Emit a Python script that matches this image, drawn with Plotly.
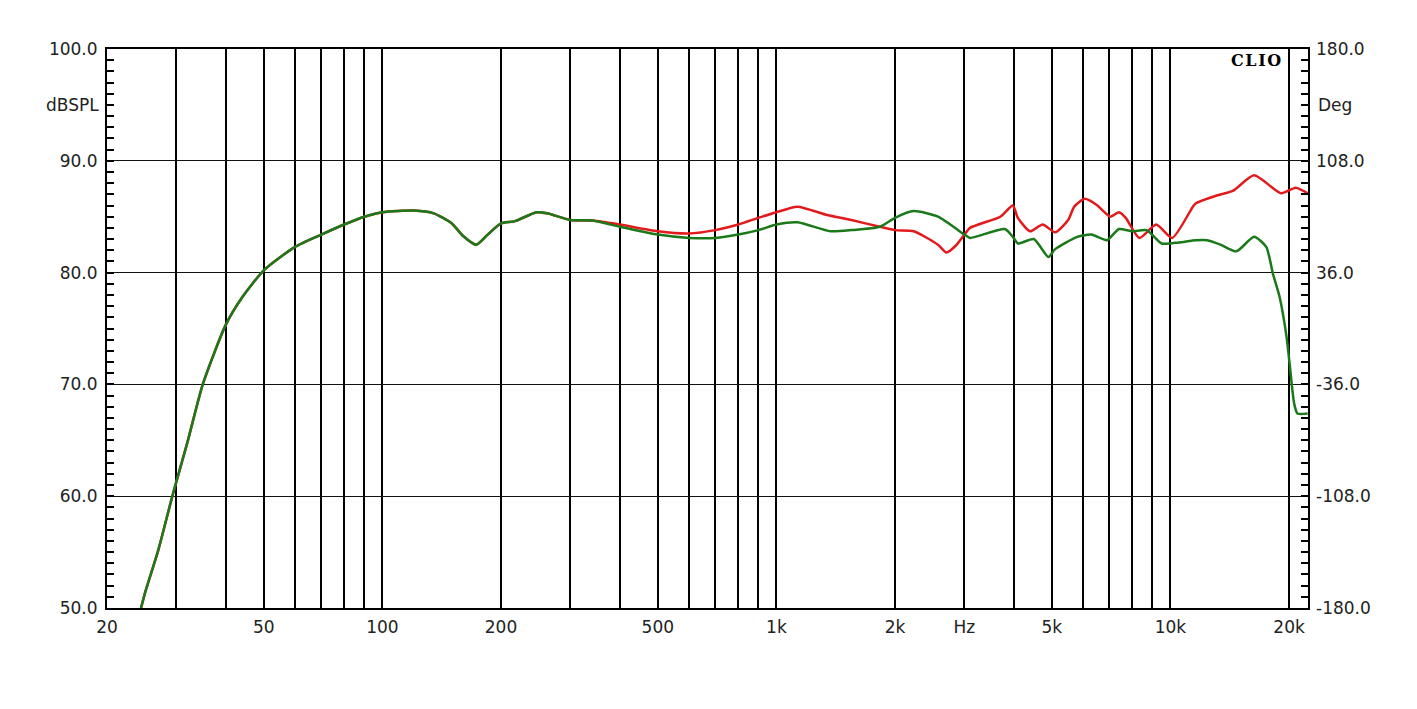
import plotly.graph_objects as go
import numpy as np

# ---- data ----
freq_low = [24.4, 25, 27, 29.3, 30, 32.1, 35, 40, 44.3, 50, 60, 70, 80, 90, 100,
            120, 135, 150, 160, 173, 185, 200, 217, 246, 262, 300, 342]
spl_low = [50.0, 51.4, 55.2, 60.0, 61.3, 65.0, 70.0, 75.3, 77.9, 80.2, 82.3, 83.4, 84.3, 85.0, 85.4,
           85.55, 85.3, 84.4, 83.3, 82.5, 83.4, 84.4, 84.6, 85.4, 85.3, 84.7, 84.65]

freq_red = [400, 500, 600, 700, 800, 900, 1000, 1130, 1346, 1550, 1830, 2000, 2230, 2570, 2700,
            2850, 3000, 3100, 3700, 3980, 4100, 4400, 4740, 5100, 5500, 5700, 6060, 6500, 7040,
            7400, 7700, 8340, 9200, 10100, 11400, 11600, 13100, 14400, 16300, 19100, 20800, 22300]
spl_red = [84.3, 83.7, 83.5, 83.8, 84.3, 84.9, 85.4, 85.9, 85.15, 84.7, 84.1, 83.8, 83.7, 82.5, 81.8,
           82.4, 83.4, 84.0, 85.0, 86.0, 84.9, 83.7, 84.3, 83.6, 84.7, 85.9, 86.6, 86.05, 85.0,
           85.4, 84.9, 83.1, 84.3, 83.1, 85.9, 86.2, 86.9, 87.3, 88.7, 87.1, 87.6, 87.1]

freq_green = [400, 500, 600, 700, 800, 900, 1000, 1130, 1370, 1550, 1830, 2000, 2230, 2570, 3000,
              3100, 3800, 4000, 4100, 4500, 4900, 5100, 5800, 6300, 6900, 7400, 8000, 8700, 9500,
              10500, 11600, 12400, 13400, 14700, 16300, 17500, 18200, 18900, 19700, 20100, 20600,
              21000, 22300]
spl_green = [84.1, 83.4, 83.1, 83.1, 83.4, 83.8, 84.3, 84.5, 83.7, 83.8, 84.1, 84.9, 85.5, 85.0, 83.4,
             83.1, 83.9, 83.1, 82.6, 83.0, 81.4, 82.1, 83.2, 83.4, 82.9, 83.9, 83.7, 83.8, 82.6,
             82.7, 82.9, 82.9, 82.5, 81.9, 83.2, 82.3, 79.9, 77.9, 74.3, 71.6, 68.3,
             67.4, 67.4]

grid_freqs = [20, 30, 40, 50, 60, 70, 80, 90, 100, 200, 300, 400, 500, 600, 700, 800, 900,
              1000, 2000, 3000, 4000, 5000, 6000, 7000, 8000, 9000, 10000, 20000]
grid_labels = {20: "20", 50: "50", 100: "100", 200: "200", 500: "500", 1000: "1k",
               2000: "2k", 3000: "Hz", 5000: "5k", 10000: "10k", 20000: "20k"}
tick_text = [grid_labels.get(f, "") for f in grid_freqs]

phase_ticks = [-180, -108, -36, 36, 108, 180]
phase_text = ["-180.0", "-108.0", "-36.0", "36.0", "108.0", "180.0"]

RED = "#e31a1c"
GREEN = "#1a7a1a"
FONT = "DejaVu Sans, Arial, sans-serif"
FS = 17

fig = go.Figure()
fig.add_trace(go.Scatter(x=freq_low + freq_red, y=spl_low + spl_red, mode="lines",
                         line=dict(color=RED, width=2.5, shape="spline", smoothing=0.6),
                         showlegend=False, hoverinfo="skip"))
fig.add_trace(go.Scatter(x=freq_low + freq_green, y=spl_low + spl_green, mode="lines",
                         line=dict(color=GREEN, width=2.5, shape="spline", smoothing=0.6),
                         showlegend=False, hoverinfo="skip"))
# dummy trace so the right (phase) axis is drawn
fig.add_trace(go.Scatter(x=[None], y=[None], yaxis="y2", showlegend=False, hoverinfo="skip"))

fig.update_layout(
    width=1417, height=709,
    margin=dict(l=99, r=117, t=41, b=109),
    paper_bgcolor="white", plot_bgcolor="white",
    font=dict(family=FONT, size=FS, color="#222"),
    xaxis=dict(type="log", range=[np.log10(20), np.log10(22340)],
               tickmode="array", tickvals=grid_freqs, ticktext=tick_text,
               showgrid=True, gridcolor="#000", gridwidth=1.7,
               showline=True, linecolor="#000", linewidth=2, mirror=True,
               ticks="", zeroline=False, tickfont=dict(size=FS), ticklabelstandoff=3),
    yaxis=dict(range=[50, 100], dtick=10, tick0=50, tickformat=".1f",
               showgrid=True, gridcolor="#111", gridwidth=1.4,
               showline=True, linecolor="#000", linewidth=2, mirror=True,
               ticks="inside", ticklen=7, tickcolor="#000", tickwidth=1.5,
               minor=dict(dtick=1, ticks="inside", ticklen=7, tickcolor="#000", tickwidth=1.5,
                          showgrid=False),
               zeroline=False, tickfont=dict(size=FS), ticklabelstandoff=4),
    yaxis2=dict(overlaying="y", side="right", range=[-180, 180],
                tickmode="array", tickvals=phase_ticks, ticktext=phase_text,
                showgrid=False, showline=False,
                ticks="inside", ticklen=7, tickcolor="#000", tickwidth=1.5,
                minor=dict(tickmode="linear", tick0=-180, dtick=7.2, ticks="inside", ticklen=7,
                           tickcolor="#000", tickwidth=1.5),
                zeroline=False, tickfont=dict(size=FS), ticklabelstandoff=7),
)

fig.add_annotation(text="dBSPL", xref="paper", yref="y", x=0, y=95, xanchor="right",
                   yanchor="middle", xshift=-6, showarrow=False, font=dict(size=FS))
fig.add_annotation(text="Deg", xref="paper", yref="y", x=1, y=95, xanchor="left",
                   yanchor="middle", xshift=8, showarrow=False, font=dict(size=FS))
fig.add_annotation(text="<b>C\u200aL\u200aI\u200aO</b>", xref="paper", yref="paper", x=0.957, y=0.979,
                   xanchor="center", yanchor="middle", showarrow=False,
                   font=dict(family="DejaVu Serif, Liberation Serif, serif", size=16, color="#000"))

fig.write_html("out.html")
